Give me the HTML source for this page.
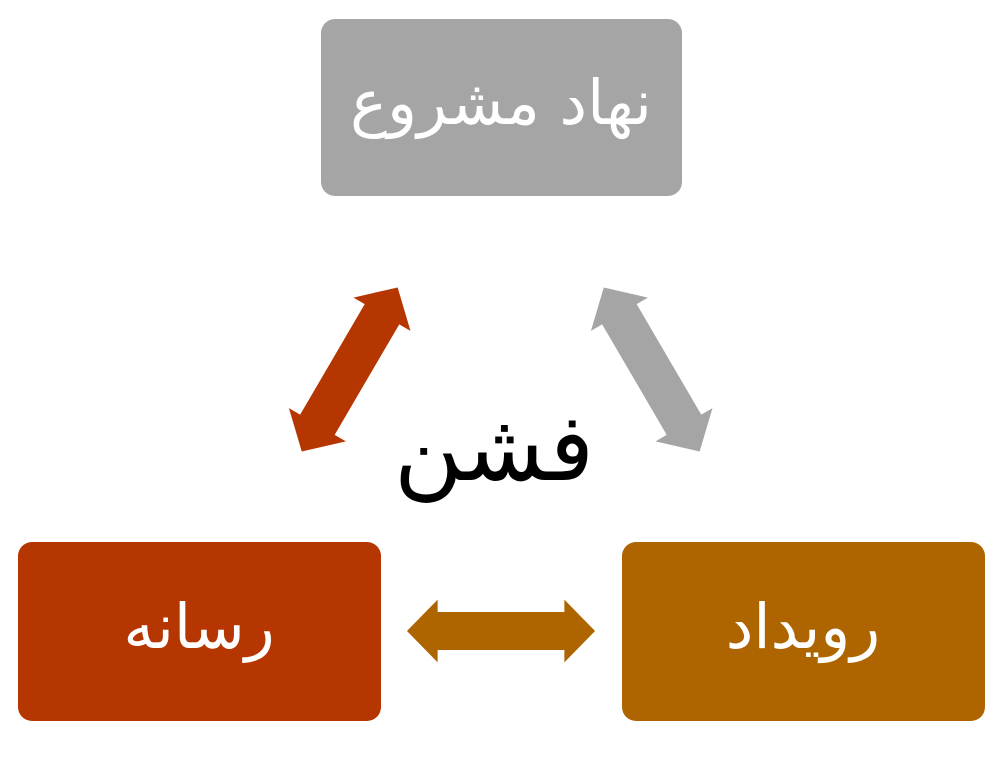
<!DOCTYPE html>
<html><head><meta charset="utf-8"><style>
html,body{margin:0;padding:0;background:#fff;width:998px;height:760px;overflow:hidden}
svg{display:block}
text{font-family:"DejaVu Sans","Liberation Sans",sans-serif}
</style></head><body>
<svg width="998" height="760" viewBox="0 0 998 760" xmlns="http://www.w3.org/2000/svg">
<defs>
<polygon id="arr" points="-95,0 -64,-33 -64,-20 64,-20 64,-33 95,0 64,33 64,20 -64,20 -64,33"/>
</defs>
<rect x="321" y="19" width="361" height="177" rx="14" fill="#a5a5a5"/>
<rect x="18" y="542" width="363" height="179" rx="14" fill="#b53600"/>
<rect x="622" y="542" width="363" height="179" rx="14" fill="#ae6500"/>
<text x="501" y="124" font-size="62" fill="#fff" text-anchor="middle" direction="rtl">نهاد مشروع</text>
<text x="199" y="648" font-size="62" fill="#fff" text-anchor="middle" direction="rtl">رسانه</text>
<text x="803" y="648" font-size="62" fill="#fff" text-anchor="middle" direction="rtl">رویداد</text>
<text x="494" y="480" font-size="94" fill="#000" text-anchor="middle" direction="rtl">فشن</text>
<use href="#arr" fill="#ae6500" transform="translate(501,631) scale(0.99,0.95)"/>
<use href="#arr" fill="#b53600" transform="translate(349.7,369.5) rotate(-59.7)"/>
<use href="#arr" fill="#a5a5a5" transform="translate(651.7,369.5) rotate(59.7)"/>
</svg>
</body></html>
